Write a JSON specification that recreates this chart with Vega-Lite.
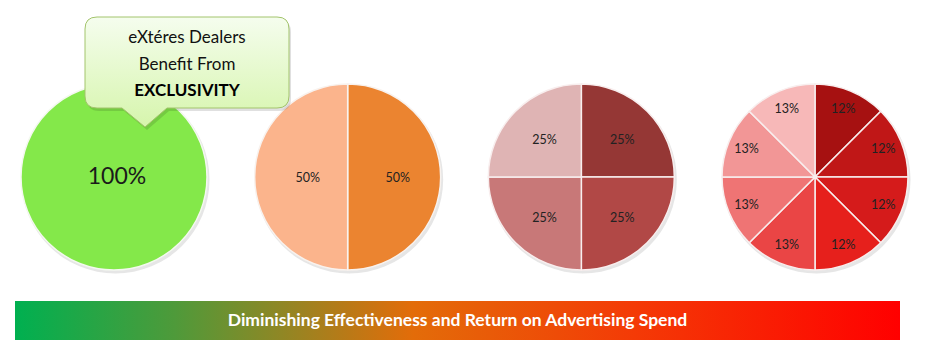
{
  "$schema": "https://vega.github.io/schema/vega-lite/v6.json",
  "padding": {"left": 15, "top": 0, "right": 0, "bottom": 0},
  "background": "white",
  "config": {"view": {"stroke": null}},
  "spacing": 11,
  "datasets": {
    "slices": [
      {"pie": "1", "slice": "A1", "value": 100, "label": "100%"},
      {"pie": "2", "slice": "B1", "value": 50, "label": "50%"},
      {"pie": "2", "slice": "B2", "value": 50, "label": "50%"},
      {"pie": "3", "slice": "C1", "value": 25, "label": "25%"},
      {"pie": "3", "slice": "C2", "value": 25, "label": "25%"},
      {"pie": "3", "slice": "C3", "value": 25, "label": "25%"},
      {"pie": "3", "slice": "C4", "value": 25, "label": "25%"},
      {"pie": "4", "slice": "D1", "value": 12.5, "label": "12%"},
      {"pie": "4", "slice": "D2", "value": 12.5, "label": "12%"},
      {"pie": "4", "slice": "D3", "value": 12.5, "label": "12%"},
      {"pie": "4", "slice": "D4", "value": 12.5, "label": "12%"},
      {"pie": "4", "slice": "D5", "value": 12.5, "label": "13%"},
      {"pie": "4", "slice": "D6", "value": 12.5, "label": "13%"},
      {"pie": "4", "slice": "D7", "value": 12.5, "label": "13%"},
      {"pie": "4", "slice": "D8", "value": 12.5, "label": "13%"}
    ],
    "pies": [{"pie": "1"}, {"pie": "2"}, {"pie": "3"}, {"pie": "4"}],
    "callout": [{"pie": "1", "line1": "eXtéres Dealers", "line2": "Benefit From", "line3": "EXCLUSIVITY"}],
    "caption": [{"caption": "Diminishing Effectiveness and Return on Advertising Spend"}]
  },
  "vconcat": [
    {
      "width": 913,
      "height": 290,
      "encoding": {
        "x": {"field": "pie", "type": "nominal", "scale": {"type": "point", "domain": ["1", "2", "3", "4"], "range": [99, 800], "padding": 0}, "axis": null},
        "y": {"value": 177}
      },
      "layer": [
        {
          "data": {"name": "pies"},
          "mark": {"type": "point", "shape": "circle", "size": 35344, "filled": true, "color": "#c8c8c8", "opacity": 0.45, "xOffset": 1.5, "yOffset": 2.5}
        },
        {
          "data": {"name": "slices"},
          "transform": [{"filter": "datum.pie === '1'"}],
          "mark": {"type": "arc", "radius": 93, "stroke": "#F4F8F0", "strokeWidth": 1.5},
          "encoding": {
            "theta": {"field": "value", "type": "quantitative", "stack": true, "scale": {"domain": [0, 100]}},
            "color": {"field": "slice", "type": "nominal", "legend": null, "scale": {"domain": ["A1","B1","B2","C1","C2","C3","C4","D1","D2","D3","D4","D5","D6","D7","D8"], "range": ["#84E84A","#EB8430","#FBB48C","#953735","#B14846","#C87878","#DFB4B4","#A61111","#C01717","#D51B1B","#E6201C","#EA4545","#EF7474","#F29696","#F7B8B8"]}},
            "order": {"field": "slice", "type": "ordinal"}
          }
        },
        {
          "data": {"name": "slices"},
          "transform": [{"filter": "datum.pie === '2'"}],
          "mark": {"type": "arc", "radius": 93, "stroke": "#F8F2EE", "strokeWidth": 1.5},
          "encoding": {
            "theta": {"field": "value", "type": "quantitative", "stack": true, "scale": {"domain": [0, 100]}},
            "color": {"field": "slice", "type": "nominal", "legend": null},
            "order": {"field": "slice", "type": "ordinal"}
          }
        },
        {
          "data": {"name": "slices"},
          "transform": [{"filter": "datum.pie === '3'"}],
          "mark": {"type": "arc", "radius": 93, "stroke": "#F8EEEE", "strokeWidth": 1.5},
          "encoding": {
            "theta": {"field": "value", "type": "quantitative", "stack": true, "scale": {"domain": [0, 100]}},
            "color": {"field": "slice", "type": "nominal", "legend": null},
            "order": {"field": "slice", "type": "ordinal"}
          }
        },
        {
          "data": {"name": "slices"},
          "transform": [{"filter": "datum.pie === '4'"}],
          "mark": {"type": "arc", "radius": 93, "stroke": "#F8EEEE", "strokeWidth": 1.5},
          "encoding": {
            "theta": {"field": "value", "type": "quantitative", "stack": true, "scale": {"domain": [0, 100]}},
            "color": {"field": "slice", "type": "nominal", "legend": null},
            "order": {"field": "slice", "type": "ordinal"}
          }
        },
        {
          "data": {"name": "slices"},
          "transform": [{"filter": "datum.pie === '1'"}],
          "mark": {"type": "text", "radius": 0, "dx": 3, "fontSize": 23, "font": "Lato", "color": "#1a1a1a"},
          "encoding": {
            "theta": {"field": "value", "type": "quantitative", "stack": true},
            "detail": {"field": "slice"},
            "order": {"field": "slice", "type": "ordinal"},
            "text": {"field": "label"}
          }
        },
        {
          "data": {"name": "slices"},
          "transform": [{"filter": "datum.pie === '2'"}],
          "mark": {"type": "text", "radius": 45, "dx": 5, "dy": 1, "fontSize": 12.5, "font": "Lato", "color": "#222222"},
          "encoding": {
            "theta": {"field": "value", "type": "quantitative", "stack": true},
            "detail": {"field": "slice"},
            "order": {"field": "slice", "type": "ordinal"},
            "text": {"field": "label"}
          }
        },
        {
          "data": {"name": "slices"},
          "transform": [{"filter": "datum.pie === '3'"}],
          "mark": {"type": "text", "radius": 55, "dx": 2, "dy": 2, "fontSize": 12.5, "font": "Lato", "color": "#222222"},
          "encoding": {
            "theta": {"field": "value", "type": "quantitative", "stack": true},
            "detail": {"field": "slice"},
            "order": {"field": "slice", "type": "ordinal"},
            "text": {"field": "label"}
          }
        },
        {
          "data": {"name": "slices"},
          "transform": [{"filter": "datum.pie === '4'"}],
          "mark": {"type": "text", "radius": 74, "fontSize": 12.5, "font": "Lato", "color": "#222222"},
          "encoding": {
            "theta": {"field": "value", "type": "quantitative", "stack": true},
            "detail": {"field": "slice"},
            "order": {"field": "slice", "type": "ordinal"},
            "text": {"field": "label"}
          }
        },
        {
          "data": {"name": "callout"},
          "mark": {"type": "point", "shape": "M -0.17 -1.6 L 1.63 -1.6 Q 1.75 -1.6 1.75 -1.48 L 1.75 -0.81 Q 1.75 -0.69 1.63 -0.69 L 0.53 -0.69 L 0.31 -0.5 L 0.08 -0.69 L -0.17 -0.69 Q -0.29 -0.69 -0.29 -0.81 L -0.29 -1.48 Q -0.29 -1.6 -0.17 -1.6 Z", "size": 40000, "filled": true, "color": "#000000", "opacity": 0.12, "xOffset": 2, "yOffset": 3}
        },
        {
          "data": {"name": "callout"},
          "mark": {"type": "point", "shape": "M -0.17 -1.6 L 1.63 -1.6 Q 1.75 -1.6 1.75 -1.48 L 1.75 -0.81 Q 1.75 -0.69 1.63 -0.69 L 0.53 -0.69 L 0.31 -0.5 L 0.08 -0.69 L -0.17 -0.69 Q -0.29 -0.69 -0.29 -0.81 L -0.29 -1.48 Q -0.29 -1.6 -0.17 -1.6 Z", "size": 40000, "filled": true, "opacity": 1, "fill": {"gradient": "linear", "x1": 0, "y1": 0, "x2": 0, "y2": 1, "stops": [{"offset": 0, "color": "#F5FDEE"}, {"offset": 1, "color": "#D6F5AC"}]}, "stroke": "#A3C46C", "strokeWidth": 1}
        },
        {
          "data": {"name": "callout"},
          "mark": {"type": "text", "dx": 73, "dy": -139, "fontSize": 17, "font": "Lato", "color": "#111111"},
          "encoding": {"text": {"field": "line1"}}
        },
        {
          "data": {"name": "callout"},
          "mark": {"type": "text", "dx": 73, "dy": -112, "fontSize": 17, "font": "Lato", "color": "#111111"},
          "encoding": {"text": {"field": "line2"}}
        },
        {
          "data": {"name": "callout"},
          "mark": {"type": "text", "dx": 73, "dy": -86, "fontSize": 17, "font": "Lato", "fontWeight": "bold", "color": "#000000"},
          "encoding": {"text": {"field": "line3"}}
        }
      ]
    },
    {
      "width": 885,
      "height": 39,
      "data": {"name": "caption"},
      "layer": [
        {
          "mark": {"type": "rect", "fill": {"gradient": "linear", "x1": 0, "y1": 0, "x2": 1, "y2": 0, "stops": [{"offset": 0, "color": "#00B050"}, {"offset": 0.18, "color": "#4E9A3A"}, {"offset": 0.3, "color": "#8F8725"}, {"offset": 0.45, "color": "#E36C09"}, {"offset": 0.7, "color": "#F43A06"}, {"offset": 1, "color": "#FF0000"}]}},
          "encoding": {"x": {"value": 0}, "x2": {"value": "width"}, "y": {"value": 0}, "y2": {"value": "height"}}
        },
        {
          "mark": {"type": "text", "color": "white", "fontSize": 17.5, "fontWeight": "bold", "font": "Lato", "baseline": "middle", "align": "center"},
          "encoding": {"text": {"field": "caption"}}
        }
      ]
    }
  ]
}
